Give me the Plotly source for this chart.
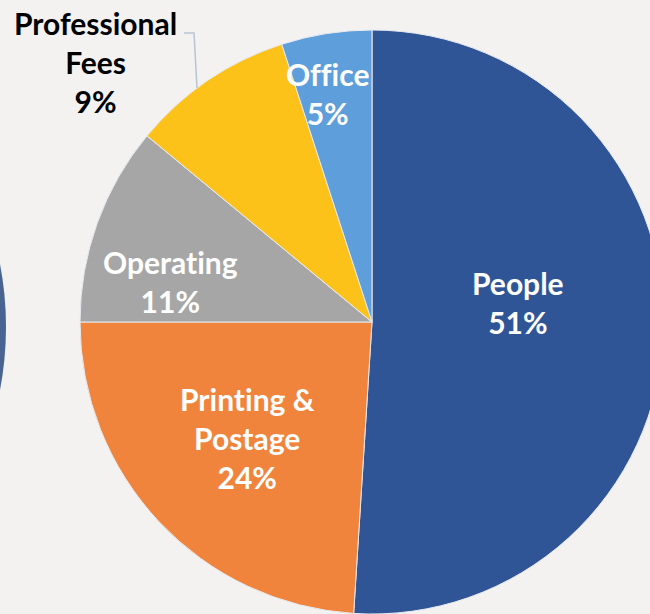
import plotly.graph_objects as go

# Expense breakdown (percent of total), clockwise from 12 o'clock
categories = ["People", "Printing & Postage", "Operating", "Professional Fees", "Office"]
shares = [51, 24, 11, 9, 5]
label_lines = ["People", "Printing &<br>Postage", "Operating", "Professional<br>Fees", "Office"]

colors = ["#2f5597", "#f1843d", "#a6a6a6", "#fdc21a", "#5d9edb"]
text_colors = ["white", "white", "white", "black", "white"]

# figure is wider than the viewport so the pie runs off the right edge
W, H = 680, 614
cx, cy, r = 372, 322, 292


def px(x):
    return x / W


def py(y):
    return 1 - y / H


fig = go.Figure(
    go.Pie(
        labels=categories,
        values=shares,
        sort=False,
        direction="clockwise",
        rotation=0,
        marker=dict(colors=colors, line=dict(color="#e8eaf0", width=1)),
        textinfo="none",
        hoverinfo="label+percent",
        showlegend=False,
        domain=dict(x=[px(cx - r), px(cx + r)], y=[py(cy + r), py(cy - r)]),
    )
)

# label block centres (pixels)
label_pos = [(518, 302), (247, 438), (170, 281), (95, 62), (327, 93)]
annotations = []
for name, val, (lx, ly), tc in zip(label_lines, shares, label_pos, text_colors):
    annotations.append(
        dict(
            text=(
                "<span style='font-variant-ligatures:none'>"
                f"<b>{name}<br>{val}%</b></span>"
            ),
            x=px(lx), y=py(ly), xref="paper", yref="paper",
            xanchor="center", yanchor="middle", showarrow=False,
            font=dict(family="Lato", size=30, color=tc),
        )
    )

shapes = [
    # leader line for the outside label
    dict(type="path", xref="paper", yref="paper",
         path=f"M {px(184)} {py(33)} L {px(194)} {py(33)} L {px(197)} {py(88)}",
         line=dict(color="#b8c4d4", width=1.5)),
    # edge of the neighbouring chart
    dict(type="circle", xref="paper", yref="paper",
         x0=px(-662), x1=px(6), y0=py(661), y1=py(-7),
         fillcolor="#4a6491", line=dict(width=0), layer="below"),
]

fig.update_layout(
    width=W, height=H,
    margin=dict(l=0, r=0, t=0, b=0),
    paper_bgcolor="#f3f2f1",
    plot_bgcolor="#f3f2f1",
    annotations=annotations,
    shapes=shapes,
)

fig.write_html(
    "out.html",
    post_script=(
        "document.documentElement.style.overflow='hidden';"
        "document.body.style.overflow='hidden';"
        "document.body.style.margin='0';"
    ),
)
